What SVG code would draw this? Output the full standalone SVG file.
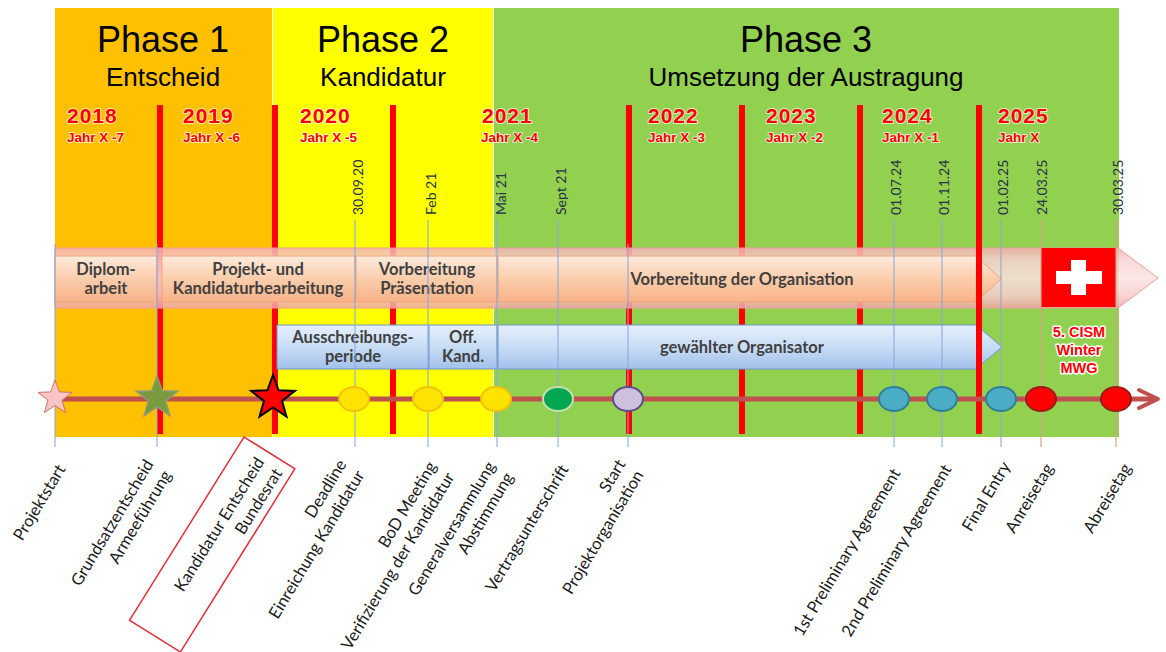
<svg xmlns="http://www.w3.org/2000/svg" width="1166" height="652" viewBox="0 0 1166 652">
<defs>
<style>
.title{font-family:"Liberation Sans",Arial,sans-serif;font-size:36px;fill:#000;text-anchor:middle}
.sub{font-family:"Liberation Sans",Arial,sans-serif;font-size:26px;fill:#000;text-anchor:middle}
.year{font-family:"Liberation Sans",Arial,sans-serif;font-weight:bold;font-size:21px;fill:#FF0000;letter-spacing:1px;stroke:#fff;stroke-opacity:0.7;stroke-width:2;paint-order:stroke;stroke-linejoin:round}
.jahr{font-family:"Liberation Sans",Arial,sans-serif;font-weight:bold;font-size:13.5px;fill:#FF0000;stroke:#fff;stroke-opacity:0.7;stroke-width:2;paint-order:stroke;stroke-linejoin:round}
.date{font-family:Lato,"Liberation Sans",sans-serif;font-size:14px;fill:#25324A}
.boxt{font-family:Lato,"Liberation Sans",sans-serif;font-size:16.5px;font-weight:bold;fill:#404040;text-anchor:middle}
.lbl{font-family:Lato,"Liberation Sans",sans-serif;font-size:16.5px;fill:#1a1a1a;text-anchor:end}
.cism{font-family:"Liberation Sans",Arial,sans-serif;font-weight:bold;font-size:14.5px;fill:#FF0000;text-anchor:middle;stroke:#fff;stroke-width:3;paint-order:stroke;stroke-linejoin:round}
.bar{fill:#FF0000}
.tick{stroke:#8EA9DB;stroke-width:1.2;opacity:0.9}
.tickr{stroke:#D9A08C;stroke-width:1.2}
.peach{fill:url(#gPeach);stroke:#F0A274;stroke-width:1}
.blue{fill:url(#gBlue);stroke:#6F96D1;stroke-width:1}
.ring{stroke-width:2}
</style>
<linearGradient id="gPeach" x1="0" y1="0" x2="0" y2="1">
<stop offset="0" stop-color="#FDEBDD"/>
<stop offset="0.5" stop-color="#FBCDAB"/>
<stop offset="1" stop-color="#F8B288"/>
</linearGradient>
<linearGradient id="gBlue" x1="0" y1="0" x2="0" y2="1">
<stop offset="0" stop-color="#E6F0FC"/>
<stop offset="0.5" stop-color="#C8DCF5"/>
<stop offset="1" stop-color="#A2C1EA"/>
</linearGradient>
<linearGradient id="gPink" x1="0" y1="0" x2="0" y2="1">
<stop offset="0" stop-color="#F2AFAF"/>
<stop offset="0.2" stop-color="#F9D2D2"/>
<stop offset="0.5" stop-color="#FCE2E2"/>
<stop offset="0.8" stop-color="#F8CCCC"/>
<stop offset="1" stop-color="#EFA3A3"/>
</linearGradient>
</defs>

<g id="panels">
<rect x="55" y="8" width="217" height="429" fill="#FFC000"/>
<rect x="273" y="8" width="220" height="429" fill="#FFFF00"/>
<rect x="494" y="8" width="625" height="429" fill="#92D050"/>
</g>

<g id="phase1">
<text class="title" x="163" y="52">Phase 1</text>
<text class="sub" x="163" y="86">Entscheid</text>
</g>
<g id="phase2">
<text class="title" x="383" y="52">Phase 2</text>
<text class="sub" x="383" y="86">Kandidatur</text>
</g>
<g id="phase3">
<text class="title" x="806" y="52">Phase 3</text>
<text class="sub" x="806" y="86">Umsetzung der Austragung</text>
</g>

<g id="years">
<text class="year" x="67" y="123">2018</text><text class="jahr" x="67" y="142">Jahr X -7</text>
<text class="year" x="183" y="123">2019</text><text class="jahr" x="183" y="142">Jahr X -6</text>
<text class="year" x="300" y="123">2020</text><text class="jahr" x="300" y="142">Jahr X -5</text>
<text class="year" x="482" y="123">2021</text><text class="jahr" x="481" y="142">Jahr X -4</text>
<text class="year" x="648" y="123">2022</text><text class="jahr" x="648" y="142">Jahr X -3</text>
<text class="year" x="766" y="123">2023</text><text class="jahr" x="766" y="142">Jahr X -2</text>
<text class="year" x="882" y="123">2024</text><text class="jahr" x="882" y="142">Jahr X -1</text>
<text class="year" x="998" y="123">2025</text><text class="jahr" x="998" y="142">Jahr X</text>
</g>

<g id="dates">
<text class="date" transform="translate(363,215) rotate(-90)">30.09.20</text>
<text class="date" transform="translate(436,215) rotate(-90)">Feb 21</text>
<text class="date" transform="translate(506,215) rotate(-90)">Mai 21</text>
<text class="date" transform="translate(566,215) rotate(-90)">Sept 21</text>
<text class="date" transform="translate(901,215) rotate(-90)">01.07.24</text>
<text class="date" transform="translate(949,215) rotate(-90)">01.11.24</text>
<text class="date" transform="translate(1008,215) rotate(-90)">01.02.25</text>
<text class="date" transform="translate(1047,215) rotate(-90)">24.03.25</text>
<text class="date" transform="translate(1123,215) rotate(-90)">30.03.25</text>
</g>

<g id="year-bars">
<rect class="bar" x="157" y="105" width="6" height="329"/>
<rect class="bar" x="272" y="105" width="6" height="329"/>
<rect class="bar" x="390" y="105" width="6" height="329"/>
<rect class="bar" x="626" y="105" width="6" height="329"/>
<rect class="bar" x="739" y="105" width="6" height="329"/>
<rect class="bar" x="857" y="105" width="6" height="329"/>
</g>

<g id="band-pink">
<path d="M55,248 H1118 L1158,278 L1118,308 H55 Z" fill="url(#gPink)" fill-opacity="0.85" stroke="#EBA0A0" stroke-width="1"/>
</g>

<g id="flag">
<rect x="1041" y="248" width="75" height="59" fill="#FF0000"/>
<rect x="1056" y="271" width="46" height="13" fill="#fff"/>
<rect x="1071" y="260" width="15" height="35" fill="#fff"/>
</g>

<g id="peach-diplom">
<rect class="peach" x="55" y="256" width="102" height="46"/>
<text class="boxt" x="106" y="275">Diplom-</text>
<text class="boxt" x="106" y="294">arbeit</text>
</g>
<g id="peach-projekt">
<rect class="peach" x="162" y="256" width="193" height="46"/>
<text class="boxt" x="258" y="275">Projekt- und</text>
<text class="boxt" x="258" y="294">Kandidaturbearbeitung</text>
</g>
<g id="peach-praes">
<rect class="peach" x="356" y="256" width="141" height="46"/>
<text class="boxt" x="427" y="275">Vorbereitung</text>
<text class="boxt" x="427" y="294">Präsentation</text>
</g>
<g id="peach-orga">
<path class="peach" d="M498,256 H976 L1001,279 L976,302 H498 Z"/>
<text class="boxt" x="742" y="285">Vorbereitung der Organisation</text>
</g>

<g id="blue-ausschreibung">
<rect class="blue" x="277" y="325" width="152" height="44"/>
<text class="boxt" x="353" y="343">Ausschreibungs-</text>
<text class="boxt" x="353" y="362">periode</text>
</g>
<g id="blue-offkand">
<rect class="blue" x="429" y="325" width="68" height="44"/>
<text class="boxt" x="463" y="343">Off.</text>
<text class="boxt" x="463" y="362">Kand.</text>
</g>
<g id="blue-organisator">
<path class="blue" d="M498,325 H976 L1002,347 L976,369 H498 Z"/>
<text class="boxt" x="742" y="353">gewählter Organisator</text>
</g>

<g id="bar-2025">
<rect class="bar" x="976" y="105" width="6" height="329"/>
</g>

<g id="ticks">
<line class="tick" x1="55" y1="244" x2="55" y2="447"/>
<line class="tick" x1="157" y1="244" x2="157" y2="447"/>
<line class="tick" x1="355" y1="220" x2="355" y2="447"/>
<line class="tick" x1="428" y1="220" x2="428" y2="447"/>
<line class="tick" x1="497" y1="220" x2="497" y2="447"/>
<line class="tick" x1="558" y1="220" x2="558" y2="447"/>
<line class="tick" x1="628" y1="244" x2="628" y2="447"/>
<line class="tick" x1="894" y1="220" x2="894" y2="447"/>
<line class="tick" x1="942" y1="220" x2="942" y2="447"/>
<line class="tick" x1="1001" y1="220" x2="1001" y2="447"/>
<line class="tickr" x1="1041" y1="220" x2="1041" y2="447"/>
<line class="tickr" x1="1116" y1="220" x2="1116" y2="447"/>
</g>

<g id="connectors">
<line x1="55" y1="399" x2="1154" y2="399" stroke="#C0504D" stroke-width="5"/>
<path d="M1139,390 L1158,399 L1139,408" fill="none" stroke="#C0504D" stroke-width="4" stroke-linecap="round" stroke-linejoin="round"/>
</g>

<g id="m-projektstart"><path d="M55,380 L59.4,391.9 L72.1,392.4 L62.1,400.3 L65.6,412.6 L55,405.5 L44.4,412.6 L47.9,400.3 L37.9,392.4 L50.6,391.9 Z" fill="#F9C4C4" stroke="#D07070" stroke-width="1"/></g>
<g id="m-grundsatz"><path d="M157,376 L162.3,390.7 L177.9,391.2 L165.6,400.8 L169.9,415.8 L157,407 L144.1,415.8 L148.4,400.8 L136.1,391.2 L151.7,390.7 Z" fill="#7A9A3E" stroke="#8E9C7A" stroke-width="1.5"/></g>
<g id="m-bundesrat"><path d="M273,375 L278.6,390.3 L294.9,390.9 L282,400.9 L286.5,416.6 L273,407.5 L259.5,416.6 L264,400.9 L251.1,390.9 L267.4,390.3 Z" fill="#FF0000" stroke="#000" stroke-width="2" stroke-linejoin="miter"/></g>
<g id="m-deadline"><ellipse class="ring" cx="354" cy="399" rx="15" ry="12" fill="#FFE300" stroke="#F2C200"/></g>
<g id="m-bod"><ellipse class="ring" cx="428" cy="399" rx="15" ry="12" fill="#FFE300" stroke="#F2C200"/></g>
<g id="m-gv"><ellipse class="ring" cx="496" cy="399" rx="15" ry="12" fill="#FFE300" stroke="#F2C200"/></g>
<g id="m-vertrag"><ellipse class="ring" cx="558" cy="399" rx="15" ry="12" fill="#00A650" stroke="#C5E0B4"/></g>
<g id="m-start"><ellipse class="ring" cx="628" cy="399" rx="15" ry="12" fill="#CDC0DC" stroke="#5F4B8B"/></g>
<g id="m-pre1"><ellipse class="ring" cx="894" cy="399" rx="15" ry="12" fill="#4BACC6" stroke="#2E7F96"/></g>
<g id="m-pre2"><ellipse class="ring" cx="942" cy="399" rx="15" ry="12" fill="#4BACC6" stroke="#2E7F96"/></g>
<g id="m-final"><ellipse class="ring" cx="1001" cy="399" rx="15" ry="12" fill="#4BACC6" stroke="#2E7F96"/></g>
<g id="m-anreise"><ellipse class="ring" cx="1041" cy="399" rx="15" ry="12" fill="#FF0000" stroke="#9B1B1B"/></g>
<g id="m-abreise"><ellipse class="ring" cx="1116" cy="399" rx="15" ry="12" fill="#FF0000" stroke="#9B1B1B"/></g>

<g id="cism">
<text class="cism" x="1079" y="337">5. CISM</text>
<text class="cism" x="1079" y="355">Winter</text>
<text class="cism" x="1079" y="373">MWG</text>
</g>

<g id="lbl-projektstart" transform="translate(66,469) rotate(-59)"><text class="lbl" x="0" y="0">Projektstart</text></g>
<g id="lbl-grundsatz" transform="translate(154,464) rotate(-59)"><text class="lbl"><tspan x="0" y="0">Grundsatzentscheid</tspan><tspan x="0" y="21">Armeeführung</tspan></text></g>
<g id="lbl-bundesrat" transform="translate(244,437) rotate(-58)">
<rect x="-216" y="0" width="216" height="60" fill="none" stroke="#E0303A" stroke-width="1.5"/>
<text class="lbl"><tspan x="-10" y="31">Kandidatur Entscheid</tspan><tspan x="-10" y="52">Bundesrat</tspan></text>
</g>
<g id="lbl-deadline" transform="translate(347,464) rotate(-59)"><text class="lbl"><tspan x="0" y="0">Deadline</tspan><tspan x="0" y="21">Einreichung Kandidatur</tspan></text></g>
<g id="lbl-bod" transform="translate(437,466) rotate(-59)"><text class="lbl"><tspan x="0" y="0">BoD Meeting</tspan><tspan x="0" y="21">Verifizierung der Kandidatur</tspan></text></g>
<g id="lbl-gv" transform="translate(496,466) rotate(-59)"><text class="lbl"><tspan x="0" y="0">Generalversammlung</tspan><tspan x="0" y="21">Abstimmung</tspan></text></g>
<g id="lbl-vertrag" transform="translate(569,469) rotate(-59)"><text class="lbl" x="0" y="0">Vertragsunterschrift</text></g>
<g id="lbl-start" transform="translate(626,464) rotate(-59)"><text class="lbl"><tspan x="0" y="0">Start</tspan><tspan x="0" y="21">Projektorganisation</tspan></text></g>
<g id="lbl-pre1" transform="translate(901,473) rotate(-59)"><text class="lbl" x="0" y="0">1st Preliminary Agreement</text></g>
<g id="lbl-pre2" transform="translate(952,469) rotate(-59)"><text class="lbl" x="0" y="0">2nd Preliminary Agreement</text></g>
<g id="lbl-final" transform="translate(1011,466) rotate(-59)"><text class="lbl" x="0" y="0">Final Entry</text></g>
<g id="lbl-anreise" transform="translate(1054,468) rotate(-59)"><text class="lbl" x="0" y="0">Anreisetag</text></g>
<g id="lbl-abreise" transform="translate(1132,468) rotate(-59)"><text class="lbl" x="0" y="0">Abreisetag</text></g>
</svg>
